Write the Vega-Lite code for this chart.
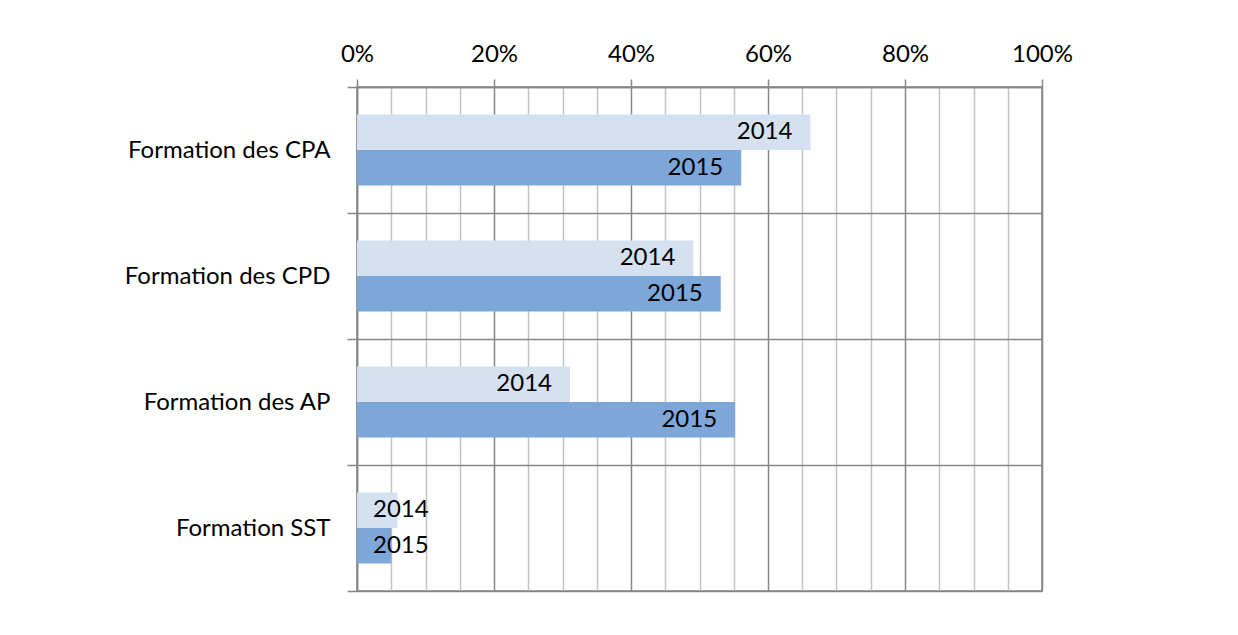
{
  "$schema": "https://vega.github.io/schema/vega-lite/v6.json",
  "autosize": {"type": "none"},
  "padding": {"left": 357, "top": 87, "right": 196, "bottom": 44},
  "width": 685,
  "height": 504,
  "background": "white",
  "config": {"font": "Lato", "view": {"stroke": "#868686", "strokeWidth": 1.5}},
  "data": {"values": [
    {"category": "Formation des CPA", "year": "2014", "value": 0.662},
    {"category": "Formation des CPA", "year": "2015", "value": 0.561},
    {"category": "Formation des CPD", "year": "2014", "value": 0.491},
    {"category": "Formation des CPD", "year": "2015", "value": 0.531},
    {"category": "Formation des AP", "year": "2014", "value": 0.311},
    {"category": "Formation des AP", "year": "2015", "value": 0.552},
    {"category": "Formation SST", "year": "2014", "value": 0.059},
    {"category": "Formation SST", "year": "2015", "value": 0.05}
  ]},
  "encoding": {
    "y": {
      "field": "category", "type": "nominal",
      "sort": ["Formation des CPA", "Formation des CPD", "Formation des AP", "Formation SST"],
      "scale": {"paddingInner": 0, "paddingOuter": 0},
      "axis": {
        "title": null, "tickBand": "extent", "grid": true,
        "gridColor": "#868686", "gridWidth": 1.5,
        "tickSize": 10, "tickColor": "#868686", "tickWidth": 1.5,
        "domainColor": "#868686", "domainWidth": 1.5,
        "labelFontSize": 24, "labelColor": "#000000", "labelPadding": 17, "labelLimit": 400
      }
    },
    "yOffset": {"field": "year", "type": "nominal", "scale": {"paddingInner": 0, "paddingOuter": 0.775}},
    "x": {
      "field": "value", "type": "quantitative",
      "scale": {"domain": [0, 1], "nice": false},
      "axis": {
        "orient": "top", "title": null,
        "values": [0, 0.05, 0.1, 0.15, 0.2, 0.25, 0.3, 0.35, 0.4, 0.45, 0.5, 0.55, 0.6, 0.65, 0.7, 0.75, 0.8, 0.85, 0.9, 0.95, 1],
        "format": ".0%",
        "labelExpr": "round(datum.value*100) % 20 == 0 ? datum.label : ''",
        "grid": true,
        "gridColor": {"condition": {"test": "round(datum.value*100) % 20 == 0", "value": "#868686"}, "value": "#c3c3c3"},
        "gridWidth": 1.5,
        "tickColor": {"condition": {"test": "round(datum.value*100) % 20 == 0", "value": "#868686"}, "value": "transparent"},
        "tickSize": 8, "tickWidth": 1.5,
        "domainColor": "#868686", "domainWidth": 1.5,
        "labelFontSize": 24, "labelColor": "#000000", "labelPadding": 13,
        "labelFlush": false, "labelOverlap": false
      }
    }
  },
  "layer": [
    {
      "mark": {"type": "bar"},
      "encoding": {
        "color": {"field": "year", "type": "nominal", "scale": {"domain": ["2014", "2015"], "range": ["#d5e1f1", "#7da7d9"]}, "legend": null}
      }
    },
    {
      "transform": [{"filter": "datum.value >= 0.1"}],
      "mark": {"type": "text", "align": "right", "baseline": "middle", "dx": -18, "fontSize": 24, "color": "#000000"},
      "encoding": {"text": {"field": "year"}}
    },
    {
      "transform": [{"filter": "datum.value < 0.1"}],
      "mark": {"type": "text", "align": "left", "baseline": "middle", "dx": 16, "fontSize": 24, "color": "#000000"},
      "encoding": {"x": {"datum": 0, "type": "quantitative"}, "text": {"field": "year"}}
    }
  ]
}
